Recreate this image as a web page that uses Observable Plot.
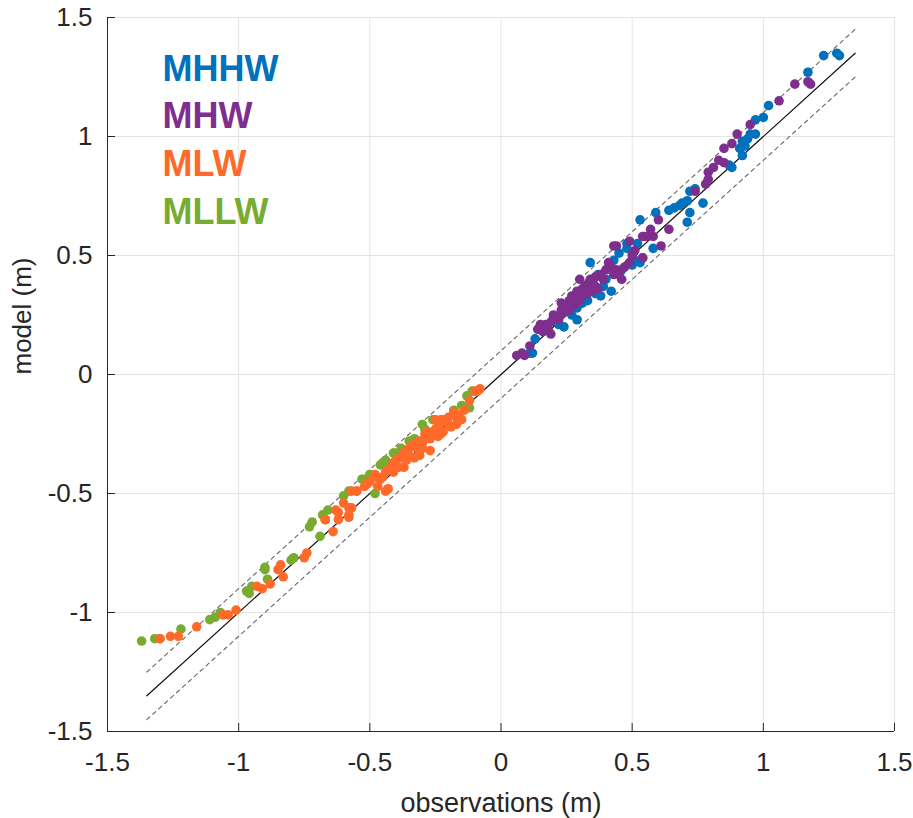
<!DOCTYPE html>
<html><head><meta charset="utf-8">
<script src="https://cdn.jsdelivr.net/npm/d3@7"></script>
<script src="https://cdn.jsdelivr.net/npm/@observablehq/plot@0.6"></script>
<style>html,body{margin:0;padding:0;background:#fff}svg{display:block}</style>
</head><body><div id="chart"></div>
<script>
const seriesNames = ["MHHW", "MHW", "MLW", "MLLW"];
const seriesColors = ["#0072BD", "#7E2F8E", "#FF6929", "#77AC30"];
const ticks = [-1.5, -1, -0.5, 0, 0.5, 1, 1.5];
const tickLabels = ["-1.5", "-1", "-0.5", "0", "0.5", "1", "1.5"];
const refRange = [-1.35, 1.35];
const bandOffset = 0.1;

// [observation, model] pairs (m)
const MHHW = [[0.11,0.09],[0.12,0.09],[0.13,0.15],[0.20,0.24],[0.24,0.20],[0.29,0.23],[0.29,0.28],[0.34,0.47],[0.37,0.42],[0.39,0.37],[0.42,0.35],[0.43,0.48],[0.45,0.51],[0.48,0.55],[0.48,0.53],[0.51,0.48],[0.53,0.47],[0.52,0.55],[0.54,0.49],[0.38,0.33],[0.53,0.65],[0.59,0.68],[0.58,0.53],[0.64,0.69],[0.66,0.70],[0.68,0.71],[0.69,0.72],[0.71,0.73],[0.72,0.68],[0.71,0.64],[0.72,0.77],[0.74,0.78],[0.77,0.72],[0.87,0.88],[0.88,0.87],[0.91,0.95],[0.92,0.92],[0.92,0.98],[0.94,0.99],[0.95,1.01],[0.97,1.01],[0.97,1.07],[1.00,1.08],[1.02,1.13],[1.17,1.27],[1.23,1.34],[1.28,1.35],[1.29,1.34],[0.93,0.96],[0.22,0.21],[0.27,0.25],[0.31,0.30],[0.33,0.31],[0.36,0.34],[0.40,0.40],[0.46,0.44],[0.50,0.46]];
const MHW = [[0.06,0.08],[0.08,0.09],[0.09,0.08],[0.11,0.12],[0.14,0.19],[0.15,0.21],[0.17,0.21],[0.18,0.19],[0.22,0.23],[0.24,0.26],[0.25,0.28],[0.26,0.31],[0.27,0.33],[0.28,0.29],[0.29,0.35],[0.30,0.40],[0.31,0.33],[0.32,0.37],[0.33,0.38],[0.34,0.40],[0.36,0.37],[0.38,0.42],[0.41,0.47],[0.43,0.42],[0.45,0.42],[0.46,0.40],[0.44,0.54],[0.49,0.47],[0.54,0.58],[0.56,0.58],[0.43,0.54],[0.49,0.56],[0.55,0.58],[0.57,0.61],[0.58,0.58],[0.60,0.65],[0.61,0.54],[0.64,0.61],[0.54,0.49],[0.74,0.77],[0.78,0.80],[0.79,0.82],[0.79,0.85],[0.81,0.87],[0.83,0.90],[0.85,0.89],[0.85,0.95],[0.88,0.97],[0.90,1.01],[0.95,1.05],[1.06,1.15],[1.12,1.22],[1.17,1.23],[1.18,1.22],[0.20,0.25],[0.23,0.30],[0.26,0.27],[0.30,0.31],[0.33,0.34],[0.35,0.39],[0.37,0.36],[0.40,0.44],[0.19,0.22],[0.21,0.24],[0.23,0.27],[0.24,0.29],[0.26,0.29],[0.27,0.30],[0.28,0.32],[0.29,0.31],[0.31,0.36],[0.32,0.34],[0.34,0.36],[0.35,0.35],[0.36,0.41],[0.39,0.40],[0.42,0.45],[0.44,0.44],[0.47,0.45],[0.50,0.50],[0.51,0.52],[0.16,0.18],[0.19,0.17]];
const MLW = [[-1.30,-1.11],[-1.26,-1.10],[-1.23,-1.10],[-1.16,-1.06],[-1.06,-1.01],[-1.04,-1.01],[-1.01,-0.99],[-0.93,-0.89],[-0.91,-0.90],[-0.88,-0.88],[-0.85,-0.82],[-0.84,-0.80],[-0.83,-0.85],[-0.75,-0.77],[-0.74,-0.75],[-0.67,-0.61],[-0.64,-0.66],[-0.63,-0.57],[-0.62,-0.61],[-0.60,-0.54],[-0.58,-0.59],[-0.57,-0.56],[-0.57,-0.49],[-0.55,-0.49],[-0.52,-0.47],[-0.50,-0.45],[-0.48,-0.43],[-0.47,-0.47],[-0.51,-0.46],[-0.48,-0.42],[-0.43,-0.48],[-0.42,-0.39],[-0.40,-0.36],[-0.38,-0.35],[-0.37,-0.39],[-0.36,-0.32],[-0.34,-0.30],[-0.33,-0.35],[-0.31,-0.34],[-0.31,-0.28],[-0.29,-0.25],[-0.27,-0.32],[-0.27,-0.27],[-0.25,-0.23],[-0.25,-0.19],[-0.24,-0.26],[-0.22,-0.24],[-0.20,-0.21],[-0.19,-0.22],[-0.17,-0.18],[-0.17,-0.21],[-0.16,-0.17],[-0.12,-0.11],[-0.10,-0.07],[-0.08,-0.06],[-0.44,-0.49],[-0.39,-0.39],[-0.45,-0.43],[-0.55,-0.49],[-0.58,-0.56],[-0.62,-0.58],[-0.58,-0.60],[-0.67,-0.61],[-0.35,-0.31],[-0.23,-0.19],[-0.15,-0.19],[-0.14,-0.15],[-0.09,-0.07],[-0.46,-0.44],[-0.44,-0.41],[-0.43,-0.40],[-0.41,-0.37],[-0.39,-0.35],[-0.37,-0.33],[-0.35,-0.34],[-0.33,-0.29],[-0.32,-0.31],[-0.30,-0.29],[-0.29,-0.27],[-0.28,-0.24],[-0.26,-0.25],[-0.24,-0.22],[-0.23,-0.25],[-0.21,-0.20],[-0.20,-0.18],[-0.18,-0.16],[-0.41,-0.41],[-0.36,-0.36],[-0.30,-0.31]];
const MLLW = [[-1.37,-1.12],[-1.32,-1.11],[-1.30,-1.11],[-1.22,-1.07],[-1.11,-1.03],[-1.09,-1.02],[-1.07,-1.00],[-0.97,-0.91],[-0.96,-0.92],[-0.95,-0.89],[-0.90,-0.82],[-0.90,-0.81],[-0.89,-0.86],[-0.80,-0.78],[-0.79,-0.77],[-0.72,-0.62],[-0.73,-0.64],[-0.69,-0.68],[-0.68,-0.59],[-0.66,-0.57],[-0.60,-0.51],[-0.58,-0.49],[-0.53,-0.44],[-0.48,-0.50],[-0.46,-0.38],[-0.45,-0.37],[-0.40,-0.33],[-0.35,-0.28],[-0.30,-0.21],[-0.29,-0.23],[-0.22,-0.19],[-0.15,-0.13],[-0.13,-0.09],[-0.11,-0.07],[-0.12,-0.14],[-0.41,-0.33],[-0.52,-0.44],[-0.50,-0.42],[-0.44,-0.36],[-0.38,-0.31],[-0.33,-0.27],[-0.26,-0.19],[-0.18,-0.15]];

const seriesData = {MHHW, MHW, MLW, MLLW};
const drawOrder = ["MHHW", "MHW", "MLLW", "MLW"];
const points = drawOrder.flatMap(s => seriesData[s].map(([obs, model]) => ({series: s, obs, model})));
const lineRows = (off) => refRange.map(v => ({x: v, y: v + off}));
const fmt = d => tickLabels[ticks.indexOf(d)];

const W = 913, H = 818, mL = 107, mR = 19, mT = 17, mB = 87;
const fw = W - mL - mR, fh = H - mT - mB;
const axisColor = "#262626";
const font = "'Liberation Sans', Arial, sans-serif";

const chart = Plot.plot({
  width: W, height: H,
  marginLeft: mL, marginRight: mR, marginTop: mT, marginBottom: mB,
  style: {fontFamily: font, background: "#fff", overflow: "visible"},
  x: {domain: [-1.5, 1.5]},
  y: {domain: [-1.5, 1.5]},
  color: {domain: seriesNames, range: seriesColors},
  marks: [
    Plot.gridX(ticks, {stroke: "#e4e4e4", strokeOpacity: 1, strokeWidth: 1}),
    Plot.gridY(ticks, {stroke: "#e4e4e4", strokeOpacity: 1, strokeWidth: 1}),
    Plot.line(lineRows(0), {x: "x", y: "y", stroke: "#111", strokeWidth: 1.2}),
    Plot.line(lineRows(bandOffset), {x: "x", y: "y", stroke: "#666", strokeWidth: 1.1, strokeDasharray: "4,4"}),
    Plot.line(lineRows(-bandOffset), {x: "x", y: "y", stroke: "#666", strokeWidth: 1.1, strokeDasharray: "4,4"}),
    Plot.dot(points, {x: "obs", y: "model", fill: "series", r: 4.8, stroke: null}),
    Plot.ruleX([-1.5], {stroke: axisColor, strokeWidth: 1}),
    Plot.ruleY([-1.5], {stroke: axisColor, strokeWidth: 1}),
    Plot.ruleX(ticks, {x: d => d, stroke: axisColor, insetTop: fh - 8}),
    Plot.ruleY(ticks, {y: d => d, stroke: axisColor, insetRight: fw - 8}),
    Plot.axisX(ticks, {tickSize: 0, tickPadding: 21, fontSize: 26, tickFormat: fmt, label: null, color: axisColor}),
    Plot.axisY(ticks, {tickSize: 0, tickPadding: 15, fontSize: 26, tickFormat: fmt, label: null, color: axisColor}),
    Plot.text(["observations (m)"], {frameAnchor: "bottom", dy: 72, fontSize: 27, fill: axisColor, lineAnchor: "middle"}),
    Plot.text(["model (m)"], {frameAnchor: "left", dx: -85, rotate: -90, fontSize: 26, fill: axisColor, lineAnchor: "middle"}),
    ...seriesNames.map((n, i) => Plot.text([n], {
      frameAnchor: "top-left", dx: 55, dy: 51.5 + i * 47.7, text: d => d,
      fill: seriesColors[i], fontSize: 36, fontWeight: "bold", textAnchor: "start", lineAnchor: "middle"
    }))
  ]
});
document.getElementById("chart").appendChild(chart);
</script></body></html>
